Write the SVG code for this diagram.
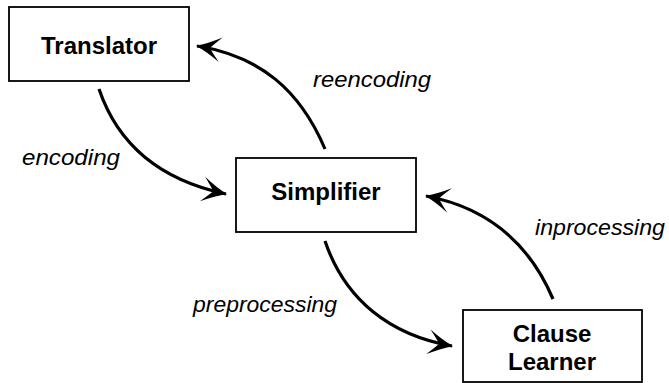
<svg xmlns="http://www.w3.org/2000/svg" width="669" height="383" viewBox="0 0 669 383">
<style>
.box{fill:#fff;stroke:#000;stroke-width:1.8}
.nt{font-family:"Liberation Sans",Arial,sans-serif;font-weight:bold;font-size:24px;text-anchor:middle;fill:#000}
.el{font-family:"Liberation Sans",Arial,sans-serif;font-style:italic;font-size:22px;fill:#000}
.edge{fill:none;stroke:#000;stroke-width:3.2}
</style>
<defs>
<marker id="ah" markerUnits="userSpaceOnUse" markerWidth="60" markerHeight="60" viewBox="-30 -30 60 60" refX="0" refY="0" orient="auto" overflow="visible">
<path d="M1,0 Q-10,-4 -24,-12.5 Q-17,-5 -13,0 Q-17,5 -24,12.5 Q-10,4 1,0 Z" fill="#000"/>
</marker>
</defs>
<g id="edges">
<path class="edge" d="M99,89 C118,145 160,180 226,194" marker-end="url(#ah)"/>
<path class="edge" d="M325,149 C300,90 260,56 197,46" marker-end="url(#ah)"/>
<path class="edge" d="M325,241 C345,300 390,335 452,346" marker-end="url(#ah)"/>
<path class="edge" d="M553,299 C530,245 490,208 426,196" marker-end="url(#ah)"/>
<text class="el" x="22" y="165" textLength="98" lengthAdjust="spacingAndGlyphs">encoding</text>
<text class="el" x="313" y="87" textLength="118" lengthAdjust="spacingAndGlyphs">reencoding</text>
<text class="el" x="193" y="312" textLength="144" lengthAdjust="spacingAndGlyphs">preprocessing</text>
<text class="el" x="535" y="235" textLength="130" lengthAdjust="spacingAndGlyphs">inprocessing</text>
</g>
<g id="translator">
<rect class="box" x="9" y="7" width="180" height="74"/>
<text class="nt" x="99" y="54">Translator</text>
</g>
<g id="simplifier">
<rect class="box" x="236" y="158" width="180" height="74"/>
<text class="nt" x="326" y="200">Simplifier</text>
</g>
<g id="clause-learner">
<rect class="box" x="463" y="310" width="179" height="72"/>
<text class="nt" x="552" y="342">Clause</text>
<text class="nt" x="552" y="370">Learner</text>
</g>
</svg>
